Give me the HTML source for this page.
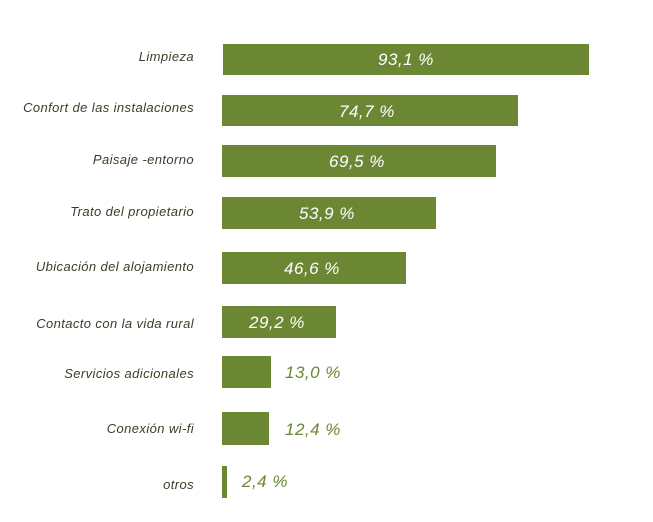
<!DOCTYPE html>
<html><head><meta charset="utf-8"><style>
body{margin:0;width:653px;height:522px;background:#fff;position:relative;overflow:hidden;font-family:"Liberation Sans",sans-serif;font-style:italic}
.l{position:absolute;right:459px;font-size:13px;color:#344027;white-space:nowrap;letter-spacing:0.4px}
.b{position:absolute;left:222px;background:#6b8733}
.v{position:absolute;font-size:17px;color:#fff;white-space:nowrap;letter-spacing:0.5px}
.o{color:#6b8733}
</style></head><body>
<div class="l" style="top:49px">Limpieza</div>
<div class="b" style="top:44px;left:223px;width:366px;height:31px"></div>
<div class="v" style="top:50px;left:378px">93,1 %</div>

<div class="l" style="top:100px">Confort de las instalaciones</div>
<div class="b" style="top:95px;width:296px;height:31px"></div>
<div class="v" style="top:102px;left:339px">74,7 %</div>

<div class="l" style="top:152px">Paisaje -entorno</div>
<div class="b" style="top:145px;width:274px;height:32px"></div>
<div class="v" style="top:152px;left:329px">69,5 %</div>

<div class="l" style="top:204px">Trato del propietario</div>
<div class="b" style="top:197px;width:214px;height:32px"></div>
<div class="v" style="top:204px;left:299px">53,9 %</div>

<div class="l" style="top:259px">Ubicación del alojamiento</div>
<div class="b" style="top:252px;width:184px;height:32px"></div>
<div class="v" style="top:259px;left:284px">46,6 %</div>

<div class="l" style="top:316px">Contacto con la vida rural</div>
<div class="b" style="top:306px;width:114px;height:32px"></div>
<div class="v" style="top:313px;left:249px">29,2 %</div>

<div class="l" style="top:366px">Servicios adicionales</div>
<div class="b" style="top:356px;width:49px;height:32px"></div>
<div class="v o" style="top:363px;left:285px">13,0 %</div>

<div class="l" style="top:421px">Conexión wi-fi</div>
<div class="b" style="top:412px;width:47px;height:33px"></div>
<div class="v o" style="top:420px;left:285px">12,4 %</div>

<div class="l" style="top:477px">otros</div>
<div class="b" style="top:466px;width:5px;height:32px"></div>
<div class="v o" style="top:472px;left:242px">2,4 %</div>
</body></html>
